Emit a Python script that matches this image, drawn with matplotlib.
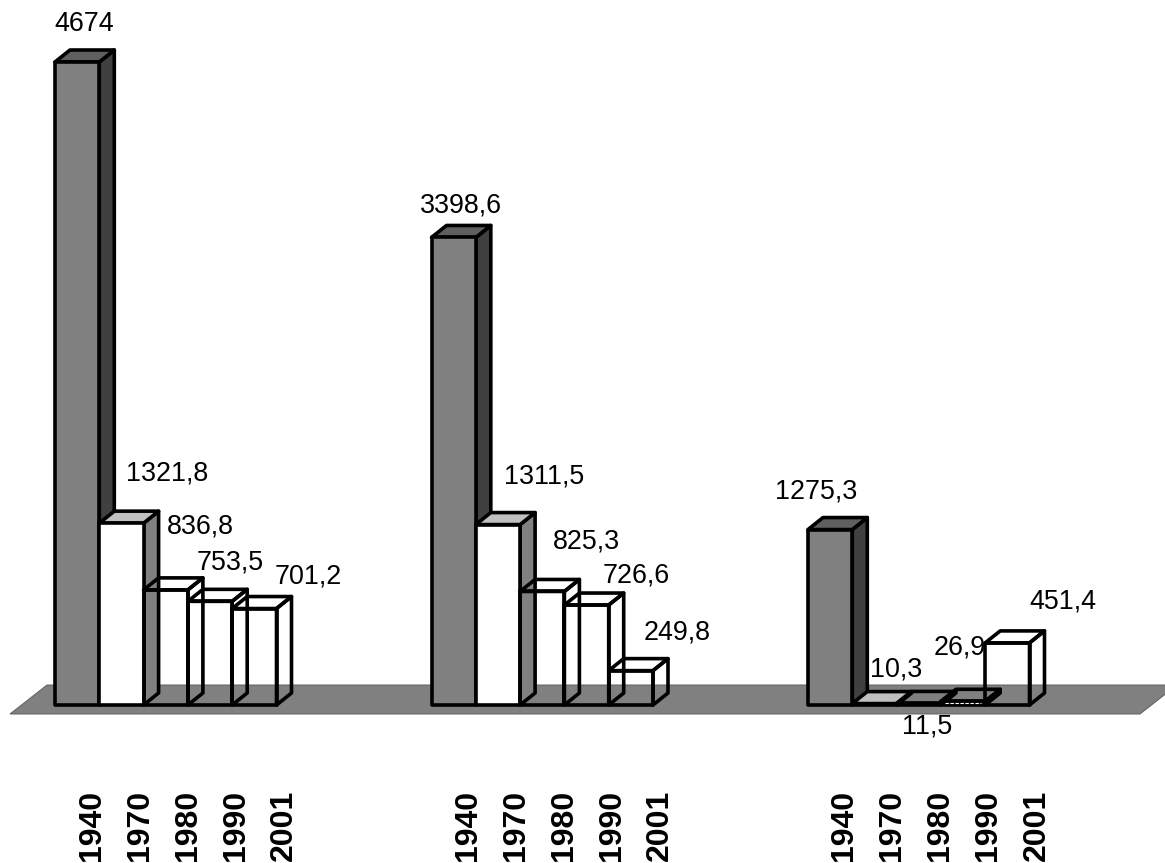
import matplotlib
matplotlib.use("Agg")
import matplotlib.pyplot as plt
from matplotlib.patches import Polygon

plt.rcParams['font.family'] = ['Liberation Sans', 'DejaVu Sans']

years = ['1940', '1970', '1980', '1990', '2001']
group_a = [4674, 1321.8, 836.8, 753.5, 701.2]
group_b = [3398.6, 1311.5, 825.3, 726.6, 249.8]
group_c = [1275.3, 10.3, 11.5, 26.9, 451.4]
groups = [group_a, group_b, group_c]

W, H = 1165, 863
PX_X = 376.5            # pixels per group
PX_Y = 643 / 4674       # pixels per unit
BASE_X, BASE_Y = 55, 705
BAR = 44.3 / PX_X
DX, DY = 15 / PX_X, 12 / PX_Y

fig = plt.figure(figsize=(W / 100, H / 100), dpi=100)
ax = fig.add_axes([0, 0, 1, 1])
ax.set_xlim(-BASE_X / PX_X, (W - BASE_X) / PX_X)
ax.set_ylim((BASE_Y - H) / PX_Y, BASE_Y / PX_Y)
ax.axis('off')

# floor
fx0, fx1 = 10, 1140
f = lambda px, py: ((px - BASE_X) / PX_X, (BASE_Y - py) / PX_Y)
ax.add_patch(Polygon([f(fx0, 714), f(fx1, 714), f(fx1 + 37, 685), f(fx0 + 37, 685)],
                     closed=True, fc='#808080', ec='#606060', lw=0.7, zorder=1))

# (front, top, side) for each series; None = no fill
styles = [('#808080', '#5f5f5f', '#404040'),
          ('#ffffff', '#c0c0c0', '#808080'),
          (None, None, None), (None, None, None), (None, None, None)]

# label offsets from the bar's top centre, pixels
offsets = [
    [(7, 38), (46, 50), (35, 63), (20, 39), (54, 32)],
    [(7, 32), (46, 48), (44, 50), (50, 30), (46, 38)],
    [(-14, 38), (22, 34), (8, -23), (-3, 54), (56, 41)],
]

def face(pts, color, z):
    ax.add_patch(Polygon(pts, closed=True, fc=color if color else 'none', ec='black',
                         lw=2.6, joinstyle='round', zorder=z))

for g, vals in enumerate(groups):
    for j, v in enumerate(vals):
        x0 = g + j * BAR
        x1 = x0 + BAR
        z = 3 + (g * 5 + j) * 0.01
        fc, tc, sc = styles[j]
        face([(x1, 0), (x1 + DX, DY), (x1 + DX, v + DY), (x1, v)], sc, z)
        face([(x0, v), (x1, v), (x1 + DX, v + DY), (x0 + DX, v + DY)], tc, z)
        face([(x0, 0), (x1, 0), (x1, v), (x0, v)], fc, z)
        label = str(v).replace('.', ',')
        ax.annotate(label, xy=((x0 + x1) / 2, v), xytext=offsets[g][j],
                    textcoords='offset pixels', ha='center', va='center',
                    fontsize=19.4, color='black', zorder=2 if (g, j) == (2, 3) else 6)
        ax.annotate(years[j], xy=(g + j * 48 / PX_X, 0), xytext=(36.5, -85),
                    textcoords='offset pixels', rotation=90, ha='center', va='top',
                    fontsize=23, fontweight='bold', color='black', zorder=2,
                    annotation_clip=False)

# thin dashed white trace inside the lowest open bar of the last group
x0 = 2 + 3 * BAR
ax.plot([x0 + 0.01, x0 + BAR - 0.01], [16, 16], color='white', lw=0.8,
        ls=(0, (3, 1.5)), zorder=3.5)

fig.savefig('out.png', dpi=100)
